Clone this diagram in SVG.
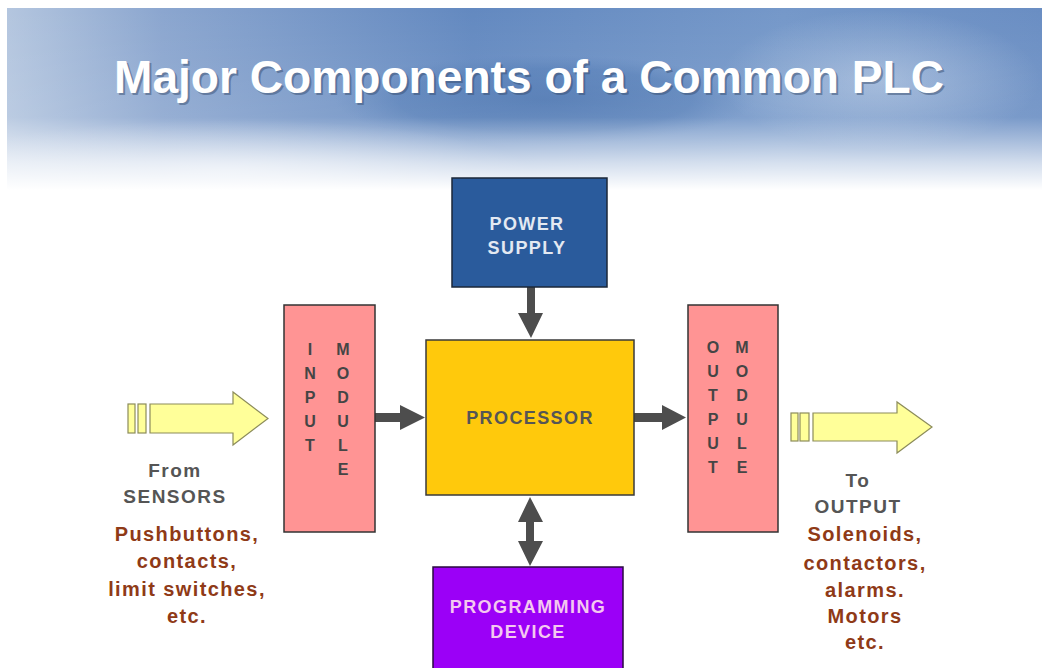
<svg xmlns="http://www.w3.org/2000/svg" width="1042" height="668" viewBox="0 0 1042 668">
<style>
.lbl{font-family:"Liberation Sans",Arial,sans-serif;font-weight:bold;text-anchor:middle}
.mod{font-size:16px;fill:#454545}
.gray{font-size:19px;fill:#555555;letter-spacing:1.5px}
.brown{font-size:20px;fill:#8f3a17;letter-spacing:1.4px}
.box{font-size:18px;letter-spacing:1.4px}
.conn{fill:#4d4d4d}
.big{fill:#ffff99;stroke:#8c8c5a;stroke-width:1.2}
</style>
<defs>
<clipPath id="bclip"><rect x="7" y="8" width="1035" height="182"/></clipPath>
<linearGradient id="bh" x1="0" y1="0" x2="1" y2="0">
<stop offset="0" stop-color="#b4c6df"/>
<stop offset="0.15" stop-color="#8ba6cf"/>
<stop offset="0.45" stop-color="#6389c0"/>
<stop offset="0.75" stop-color="#7598c9"/>
<stop offset="1" stop-color="#6a8ec3"/>
</linearGradient>
<linearGradient id="fade" x1="0" y1="0" x2="0" y2="1">
<stop offset="0" stop-color="#ffffff" stop-opacity="0"/>
<stop offset="0.6" stop-color="#ffffff" stop-opacity="0.1"/>
<stop offset="0.85" stop-color="#ffffff" stop-opacity="0.7"/>
<stop offset="1" stop-color="#ffffff" stop-opacity="1"/>
</linearGradient>
<radialGradient id="disc" cx="0.5" cy="0.5" r="0.5">
<stop offset="0" stop-color="#4a74b0" stop-opacity="0.9"/>
<stop offset="0.7" stop-color="#4f79b4" stop-opacity="0.6"/>
<stop offset="1" stop-color="#5a82ba" stop-opacity="0"/>
</radialGradient>
<radialGradient id="glow" cx="0.5" cy="0.5" r="0.5">
<stop offset="0" stop-color="#e6edf6" stop-opacity="0.8"/>
<stop offset="1" stop-color="#e6edf6" stop-opacity="0"/>
</radialGradient>
</defs>
<rect width="1042" height="668" fill="#ffffff"/>
<g id="banner">
<g clip-path="url(#bclip)">
<rect x="7" y="8" width="1035" height="182" fill="url(#bh)"/>
<ellipse cx="545" cy="100" rx="210" ry="45" fill="url(#disc)"/>
<ellipse cx="880" cy="80" rx="160" ry="70" fill="url(#glow)" opacity="0.5"/>
<ellipse cx="230" cy="170" rx="300" ry="50" fill="url(#glow)" opacity="0.7"/>
<rect x="7" y="8" width="1035" height="182" fill="url(#fade)"/>
</g>
<text x="531" y="95" class="lbl" font-size="46" fill="#3a4f70" opacity="0.5" textLength="830" lengthAdjust="spacingAndGlyphs">Major Components of a Common PLC</text>
<text x="529" y="93" class="lbl" font-size="46" fill="#ffffff" textLength="830" lengthAdjust="spacingAndGlyphs">Major Components of a Common PLC</text>
</g>
<g id="connectors">
<path class="conn" d="M527 287 H535 V313 H543 L531 338 L518 313 H527 Z"/>
<path class="conn" d="M375 413 H400 V405 L425 417.5 L400 430 V422 H375 Z"/>
<path class="conn" d="M634 413 H662 V405 L686 417.5 L662 430 V422 H634 Z"/>
<path class="conn" d="M530 497 L543 522 H534 V541 H543 L530 566 L518 541 H526 V522 H518 Z"/>
</g>
<g id="power-supply">
<rect x="452" y="178" width="155" height="109" fill="#2a5b9c" stroke="#1b2738" stroke-width="1.5"/>
<text x="527" y="230" class="lbl box" fill="#e3e9f2">POWER</text>
<text x="527" y="254" class="lbl box" fill="#e3e9f2">SUPPLY</text>
</g>
<g id="processor">
<rect x="426" y="340" width="208" height="155" fill="#ffc90c" stroke="#3a3a3a" stroke-width="1.5"/>
<text x="530" y="424" class="lbl box" fill="#555555">PROCESSOR</text>
</g>
<g id="input-module">
<rect x="284" y="305" width="91" height="227" fill="#ff9494" stroke="#333333" stroke-width="1.5"/>
<text class="lbl mod"><tspan x="310" y="355">I</tspan><tspan x="310" y="379">N</tspan><tspan x="310" y="403">P</tspan><tspan x="310" y="427">U</tspan><tspan x="310" y="451">T</tspan></text>
<text class="lbl mod"><tspan x="343" y="355">M</tspan><tspan x="343" y="379">O</tspan><tspan x="343" y="403">D</tspan><tspan x="343" y="427">U</tspan><tspan x="343" y="451">L</tspan><tspan x="343" y="475">E</tspan></text>
</g>
<g id="output-module">
<rect x="688" y="305" width="90" height="227" fill="#ff9494" stroke="#333333" stroke-width="1.5"/>
<text class="lbl mod"><tspan x="713" y="353">O</tspan><tspan x="713" y="377">U</tspan><tspan x="713" y="401">T</tspan><tspan x="713" y="425">P</tspan><tspan x="713" y="449">U</tspan><tspan x="713" y="473">T</tspan></text>
<text class="lbl mod"><tspan x="742" y="353">M</tspan><tspan x="742" y="377">O</tspan><tspan x="742" y="401">D</tspan><tspan x="742" y="425">U</tspan><tspan x="742" y="449">L</tspan><tspan x="742" y="473">E</tspan></text>
</g>
<g id="programming-device">
<rect x="433" y="567" width="190" height="110" fill="#9b00f7" stroke="#2a0a40" stroke-width="1.5"/>
<text x="528" y="613" class="lbl box" fill="#f4c8f0">PROGRAMMING</text>
<text x="528" y="638" class="lbl box" fill="#f4c8f0">DEVICE</text>
</g>
<g id="sensors-input">
<rect x="128" y="404" width="7" height="29" class="big"/>
<rect x="138" y="404" width="8" height="29" class="big"/>
<path class="big" d="M150 404 H233 V392 L268 418.5 L233 445 V433 H150 Z"/>
<text class="lbl gray"><tspan x="175" y="477">From</tspan><tspan x="175" y="503">SENSORS</tspan></text>
<text class="lbl brown"><tspan x="187" y="541">Pushbuttons,</tspan><tspan x="187" y="568">contacts,</tspan><tspan x="187" y="596">limit switches,</tspan><tspan x="187" y="623">etc.</tspan></text>
</g>
<g id="output-devices">
<rect x="791" y="413" width="7" height="28" class="big"/>
<rect x="800" y="413" width="9" height="28" class="big"/>
<path class="big" d="M813 413 H897 V402 L932 427 L897 453 V441 H813 Z"/>
<text class="lbl gray"><tspan x="858" y="487">To</tspan><tspan x="858" y="513">OUTPUT</tspan></text>
<text class="lbl brown"><tspan x="865" y="541">Solenoids,</tspan><tspan x="865" y="570">contactors,</tspan><tspan x="865" y="597">alarms.</tspan><tspan x="865" y="623">Motors</tspan><tspan x="865" y="649">etc.</tspan></text>
</g>
</svg>
